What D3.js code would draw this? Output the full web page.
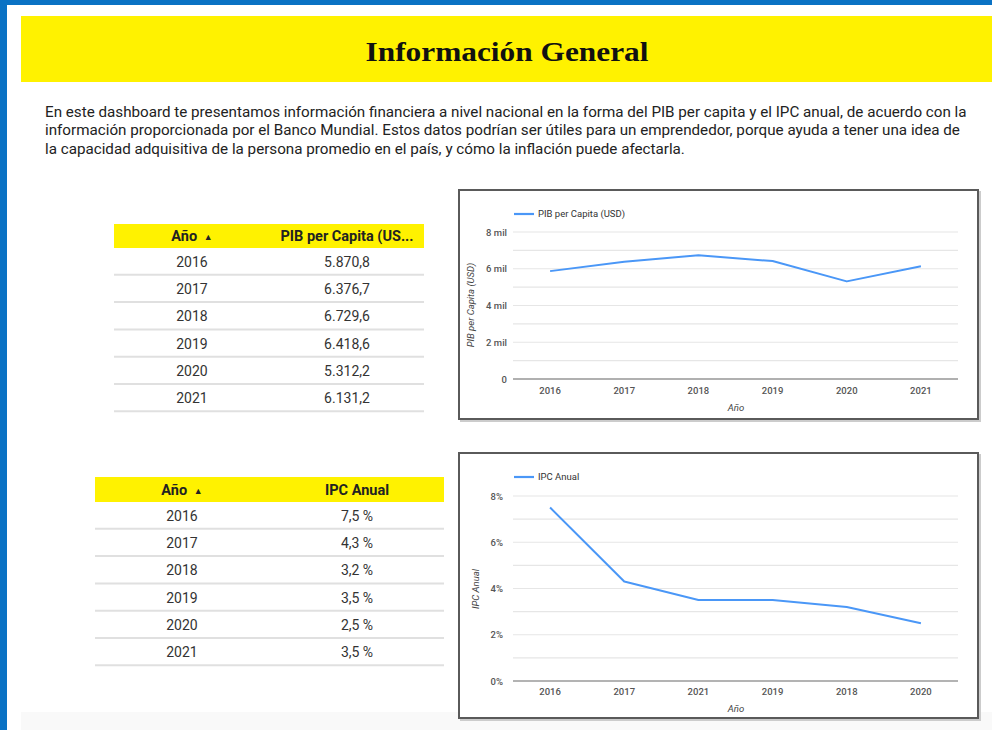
<!DOCTYPE html>
<html><head><meta charset="utf-8">
<script src="https://cdn.jsdelivr.net/npm/d3@7"></script>
<style>
html,body{margin:0;padding:0;background:#fff;}
svg{display:block;font-family:Roboto,"Noto Sans",sans-serif;}
</style></head>
<body>
<svg id="c" width="992" height="730"></svg>
<script>
// ---- data ----
const years = ["2016","2017","2018","2019","2020","2021"];
const pibValues = [5870.8, 6376.7, 6729.6, 6418.6, 5312.2, 6131.2];
const ipcValues = [7.5, 4.3, 3.2, 3.5, 2.5, 3.5];
const ipcChartOrder = ["2016","2017","2021","2019","2018","2020"];
const pibTicks = [0, 2000, 4000, 6000, 8000];
const pibTickLabels = ["0", "2 mil", "4 mil", "6 mil", "8 mil"];
const ipcTicks = [0, 2, 4, 6, 8];
const ipcTickLabels = ["0%", "2%", "4%", "6%", "8%"];
const titleText = "Información General";
const introLines = [
  "En este dashboard te presentamos información financiera a nivel nacional en la forma del PIB per capita y el IPC anual, de acuerdo con la",
  "información proporcionada por el Banco Mundial. Estos datos podrían ser útiles para un emprendedor, porque ayuda a tener una idea de",
  "la capacidad adquisitiva de la persona promedio en el país, y cómo la inflación puede afectarla."
];

const loc = d3.formatLocale({decimal: ",", thousands: ".", grouping: [3], currency: ["$", ""]});
const fmtPib = loc.format(",.1f");
const fmtIpc = v => loc.format(".1f")(v) + " %";

const svg = d3.select("#c");
const BLUE = "#0a72c4", YELLOW = "#fff200", LINE = "#4a97f7";

// page frame
svg.append("rect").attr("x",0).attr("y",0).attr("width",992).attr("height",730).attr("fill","#fff");
svg.append("rect").attr("x",21).attr("y",712).attr("width",971).attr("height",18).attr("fill","#f9f9f9");
svg.append("rect").attr("x",0).attr("y",0).attr("width",992).attr("height",5).attr("fill",BLUE);
svg.append("rect").attr("x",0).attr("y",0).attr("width",7).attr("height",730).attr("fill",BLUE);

// banner
svg.append("rect").attr("x",21).attr("y",16).attr("width",971).attr("height",66).attr("fill",YELLOW);
svg.append("text").attr("x",507).attr("y",61).attr("text-anchor","middle")
  .attr("font-family","'Liberation Serif','DejaVu Serif',serif").attr("font-weight","bold")
  .attr("font-size",28).attr("textLength",283).attr("lengthAdjust","spacingAndGlyphs")
  .attr("fill","#111").text(titleText);

// intro paragraph
svg.append("g").selectAll("text").data(introLines).join("text")
  .attr("x",45).attr("y",(d,i)=>116.5+i*18.5)
  .attr("font-size",15.2).attr("fill","#222").text(d=>d);

// ---- tables ----
function drawTable(opt){
  const g = svg.append("g");
  const rowH = opt.rowH;
  g.append("rect").attr("x",opt.x0).attr("y",opt.y0).attr("width",opt.x1-opt.x0).attr("height",opt.hh).attr("fill",YELLOW);
  const hy = opt.y0 + opt.hh/2 + 5;
  g.append("text").attr("x",opt.c1).attr("y",hy).attr("text-anchor","middle")
    .attr("font-size",14.5).attr("font-weight","bold").attr("fill","#222")
    .text("Año ").append("tspan").attr("font-size",9).attr("dx",3).attr("dy",-1).text("▲");
  g.append("text").attr("x",opt.c2).attr("y",hy).attr("text-anchor","middle")
    .attr("font-size",14.5).attr("font-weight","bold").attr("fill","#222").text(opt.h2);
  const rows = g.selectAll("g.r").data(years).join("g").attr("class","r")
    .attr("transform",(d,i)=>`translate(0,${opt.y0+opt.hh+i*rowH})`);
  rows.append("text").attr("x",opt.c1).attr("y",rowH/2+5).attr("text-anchor","middle")
    .attr("font-size",14).attr("fill","#333").text(d=>d);
  rows.append("text").attr("x",opt.c2).attr("y",rowH/2+5).attr("text-anchor","middle")
    .attr("font-size",14).attr("fill","#333").text((d,i)=>opt.fmt(opt.values[i]));
  rows.append("line").attr("x1",opt.x0).attr("x2",opt.x1).attr("y1",rowH-0.5).attr("y2",rowH-0.5)
    .attr("stroke","#e0e0e0").attr("stroke-width",2);
}
drawTable({x0:114,x1:424,y0:224,hh:24,rowH:27.3,c1:192,c2:347,h2:"PIB per Capita (US...",values:pibValues,fmt:fmtPib});
drawTable({x0:95,x1:444,y0:477,hh:25,rowH:27.3,c1:182,c2:357,h2:"IPC Anual",values:ipcValues,fmt:fmtIpc});

// ---- line charts ----
function drawChart(opt){
  const g = svg.append("g");
  // box with shadow
  g.append("rect").attr("x",opt.bx+2).attr("y",opt.by+2).attr("width",opt.bw).attr("height",opt.bh)
    .attr("fill","none").attr("stroke","#ccc").attr("stroke-width",2);
  g.append("rect").attr("x",opt.bx).attr("y",opt.by).attr("width",opt.bw).attr("height",opt.bh)
    .attr("fill","#fff").attr("stroke","#5a5a5a").attr("stroke-width",2);

  const x = d3.scaleBand().domain(opt.order).range([513,958]);
  const y = d3.scaleLinear().domain([0, opt.max]).range([opt.y0, opt.y8]);

  // gridlines (minor + major)
  const grid = d3.range(1, opt.max + opt.max/8, opt.max/8);
  g.selectAll("line.grid").data(grid).join("line").attr("class","grid")
    .attr("x1",513).attr("x2",958).attr("y1",d=>y(d)).attr("y2",d=>y(d))
    .attr("stroke","#e6e6e6").attr("stroke-width",1.2);
  g.append("line").attr("x1",513).attr("x2",958).attr("y1",y(0)).attr("y2",y(0))
    .attr("stroke","#9a9a9a").attr("stroke-width",1.5);

  // y axis labels
  const ya = d3.axisLeft(y).tickValues(opt.ticks).tickFormat((d,i)=>opt.tickLabels[i]).tickSize(0).tickPadding(0);
  const yg = g.append("g").attr("transform",`translate(${opt.ylabX},0)`).call(ya);
  yg.select(".domain").remove();
  yg.selectAll("text").attr("font-size",9.5).attr("font-weight",500).attr("fill","#555")
    .attr("font-family","Roboto,sans-serif");

  // x axis labels
  const xa = d3.axisBottom(x).tickSize(0).tickPadding(0);
  const xg = g.append("g").attr("transform",`translate(0,${opt.xlabY})`).call(xa);
  xg.select(".domain").remove();
  xg.selectAll("text").attr("font-size",9.5).attr("font-weight",500).attr("fill","#555")
    .attr("font-family","Roboto,sans-serif");

  // axis titles
  g.append("text").attr("x",736).attr("y",opt.xtitleY).attr("text-anchor","middle")
    .attr("font-size",9.5).attr("font-style","italic").attr("fill","#444").text("Año");
  g.append("text").attr("transform",`translate(${opt.ytitleX},${opt.ytitleY}) rotate(-90)`)
    .attr("text-anchor","middle").attr("font-size",9.5).attr("font-style","italic").attr("fill","#444").text(opt.yTitle);

  // legend
  g.append("line").attr("x1",514).attr("x2",534).attr("y1",opt.legY).attr("y2",opt.legY)
    .attr("stroke",LINE).attr("stroke-width",2.2);
  g.append("text").attr("x",538).attr("y",opt.legY+3.3).attr("font-size",9.5).attr("fill","#333").text(opt.legend);

  // line
  const pts = opt.order.map(k => [k, opt.values[years.indexOf(k)]]);
  const line = d3.line().x(d=>x(d[0])+x.bandwidth()/2).y(d=>y(d[1]));
  g.append("path").datum(pts).attr("d",line).attr("fill","none")
    .attr("stroke",LINE).attr("stroke-width",2).attr("stroke-linejoin","round");
}

drawChart({bx:459,by:190,bw:519,bh:229,order:years,values:pibValues,max:8000,
  ticks:pibTicks,tickLabels:pibTickLabels,y0:379,y8:232,ylabX:507,xlabY:387,xtitleY:411,
  ytitleX:474,ytitleY:305,yTitle:"PIB per Capita (USD)",legend:"PIB per Capita (USD)",legY:214});

drawChart({bx:459,by:453,bw:519,bh:265,order:ipcChartOrder,values:ipcValues,max:8,
  ticks:ipcTicks,tickLabels:ipcTickLabels,y0:681,y8:496,ylabX:503,xlabY:688,xtitleY:712,
  ytitleX:479,ytitleY:589,yTitle:"IPC Anual",legend:"IPC Anual",legY:477});
</script>
</body></html>
